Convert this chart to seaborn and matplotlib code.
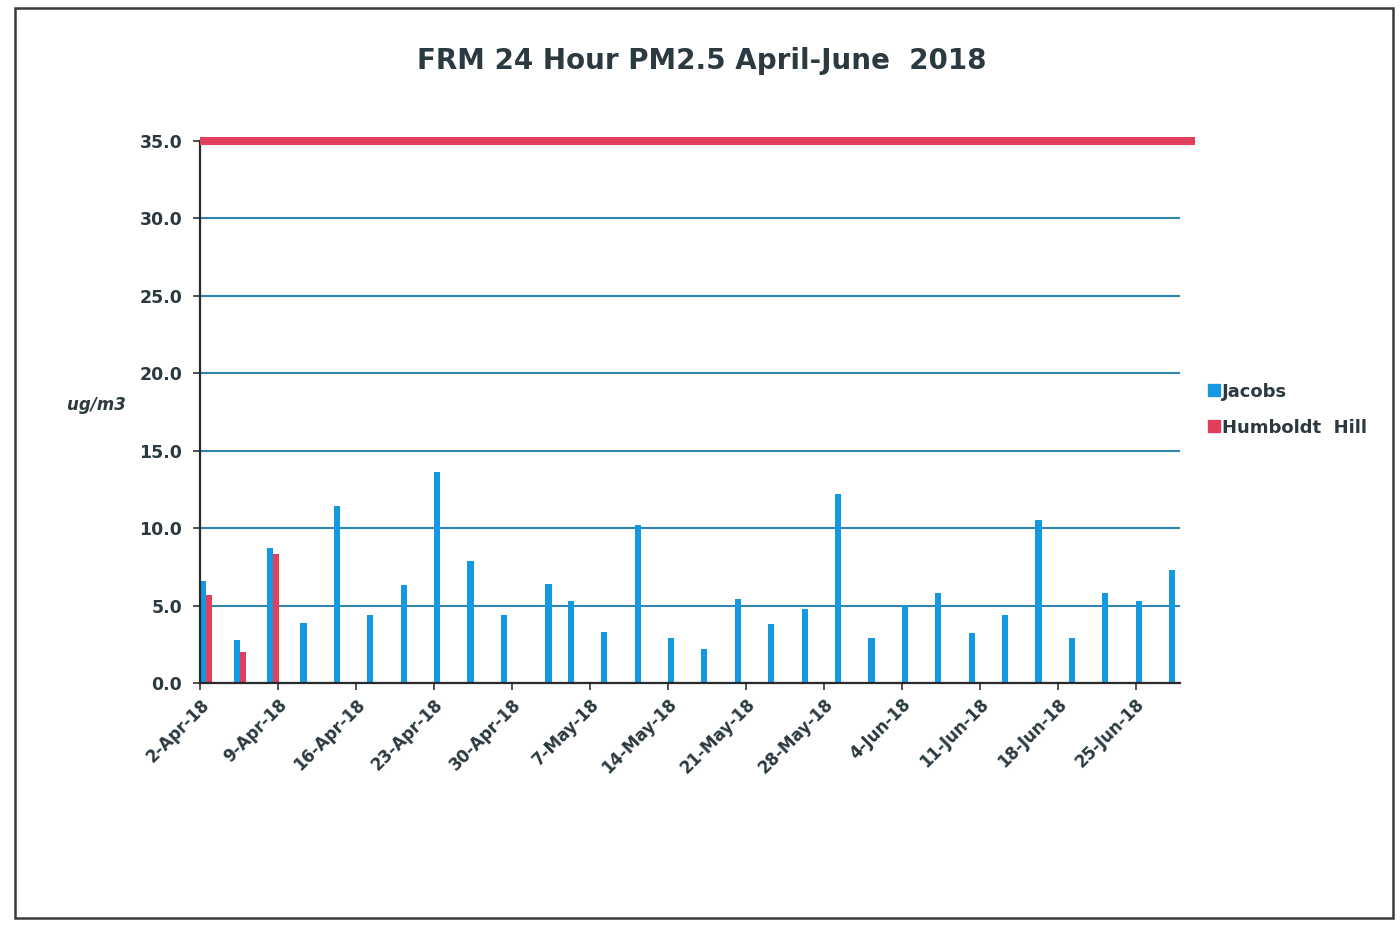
import numpy as np
import pandas as pd
import matplotlib
matplotlib.use("Agg")
import matplotlib.pyplot as plt
from matplotlib.lines import Line2D
from matplotlib.patches import Rectangle
import seaborn as sns

# FRM 24-hour PM2.5 filter results (ug/m3), April-June 2018
jacobs_dates = [
    "2018-04-02", "2018-04-05", "2018-04-08", "2018-04-11", "2018-04-14",
    "2018-04-17", "2018-04-20", "2018-04-23", "2018-04-26", "2018-04-29",
    "2018-05-03", "2018-05-05", "2018-05-08", "2018-05-11", "2018-05-14",
    "2018-05-17", "2018-05-20", "2018-05-23", "2018-05-26", "2018-05-29",
    "2018-06-01", "2018-06-04", "2018-06-07", "2018-06-10", "2018-06-13",
    "2018-06-16", "2018-06-19", "2018-06-22", "2018-06-25", "2018-06-28",
]
jacobs_pm25 = [
    6.6, 2.8, 8.7, 3.9, 11.4, 4.4, 6.3, 13.6, 7.9, 4.4,
    6.4, 5.3, 3.3, 10.2, 2.9, 2.2, 5.4, 3.8, 4.8, 12.2,
    2.9, 5.0, 5.8, 3.2, 4.4, 10.5, 2.9, 5.8, 5.3, 7.3,
]
humboldt_dates = ["2018-04-02", "2018-04-05", "2018-04-08"]
humboldt_pm25 = [5.7, 2.0, 8.3]

site_names = ["Jacobs", "Humboldt  Hill"]
site_colors = ["#1598e2", "#e23f5c"]
naaqs_24h = 35.0

y_ticks = [0, 5, 10, 15, 20, 25, 30, 35]
x_tick_labels = [
    "2-Apr-18", "9-Apr-18", "16-Apr-18", "23-Apr-18", "30-Apr-18",
    "7-May-18", "14-May-18", "21-May-18", "28-May-18", "4-Jun-18",
    "11-Jun-18", "18-Jun-18", "25-Jun-18",
]
period_start = "2018-04-02"
period_end = "2018-06-29"

# ---------------------------------------------------------------------------
start = pd.Timestamp(period_start)
end = pd.Timestamp(period_end)

df = pd.concat([
    pd.DataFrame({"date": pd.to_datetime(jacobs_dates), "pm25": jacobs_pm25,
                  "site": site_names[0]}),
    pd.DataFrame({"date": pd.to_datetime(humboldt_dates), "pm25": humboldt_pm25,
                  "site": site_names[1]}),
], ignore_index=True)
# each sample day occupies one day-wide slot starting at midnight
df["day"] = (df["date"] - start).dt.days + 0.55

sns.set_theme(style="white")
plt.rcParams["font.family"] = ["DejaVu Sans"]

text_color = "#2b3940"
grid_color = "#2f83ad"

fig = plt.figure(figsize=(14, 9.33), dpi=100)
ax = fig.add_axes([0.143, 0.268, 0.700, 0.581])

# a pair of bars spans about 1.1 days
min_gap = np.diff(np.sort(df["day"].unique())).min()
sns.barplot(
    data=df, x="day", y="pm25", hue="site", hue_order=site_names,
    palette=site_colors, native_scale=True, dodge=True, errorbar=None,
    width=1.1 / min_gap, gap=0, saturation=1, linewidth=0, legend=False, ax=ax,
)

ax.set_xlim(0, (end - start).days)
ax.set_ylim(0, naaqs_24h)

# weekly date ticks
ax.set_xticks(np.arange(len(x_tick_labels)) * 7)
ax.set_xticklabels(x_tick_labels, rotation=45, ha="right",
                   rotation_mode="anchor", fontsize=12, fontweight="bold",
                   color=text_color)
ax.set_yticks(y_ticks)
ax.set_yticklabels([f"{v:.1f}" for v in y_ticks], fontsize=12.5,
                   fontweight="bold", color=text_color)
ax.tick_params(axis="both", direction="out", length=5, width=1.2,
               color="#333333", bottom=True, left=True)
ax.tick_params(axis="x", pad=4)
ax.tick_params(axis="y", pad=8)

ax.set_xlabel("")
ax.set_ylabel("")
ax.set_axisbelow(True)
ax.yaxis.grid(True, color=grid_color, linewidth=1.5)
ax.xaxis.grid(False)
for side in ["top", "right"]:
    ax.spines[side].set_visible(False)
for side in ["left", "bottom"]:
    ax.spines[side].set_color("#2a2a2a")
    ax.spines[side].set_linewidth(1.6)

# 24-hour PM2.5 standard
ax.axhline(naaqs_24h, xmin=0, xmax=1.015, color=site_colors[1],
           linewidth=5.8, clip_on=False, zorder=5, solid_capstyle="butt")

fig.text(0.501, 0.935, "FRM 24 Hour PM2.5 April-June  2018", ha="center",
         va="center", fontsize=20, fontweight="bold", color=text_color)
fig.text(0.069, 0.566, "ug/m3", ha="center", va="center", fontsize=12,
         fontweight="bold", fontstyle="italic", color=text_color)

handles = [Line2D([], [], marker="s", linestyle="", markersize=9,
                  markerfacecolor=c, markeredgecolor=c) for c in site_colors]
fig.legend(handles, site_names, loc="center left",
           bbox_to_anchor=(0.851, 0.561), frameon=False, handlelength=0.7,
           handletextpad=0.1, labelspacing=1.0,
           prop={"size": 13, "weight": "bold"}, labelcolor=text_color)

# outer chart frame
fig.add_artist(Rectangle((0.011, 0.016), 0.984, 0.975, transform=fig.transFigure,
                         fill=False, edgecolor="#3a3a3a", linewidth=1.8))

fig.savefig("out.png", dpi=100, facecolor="white")
